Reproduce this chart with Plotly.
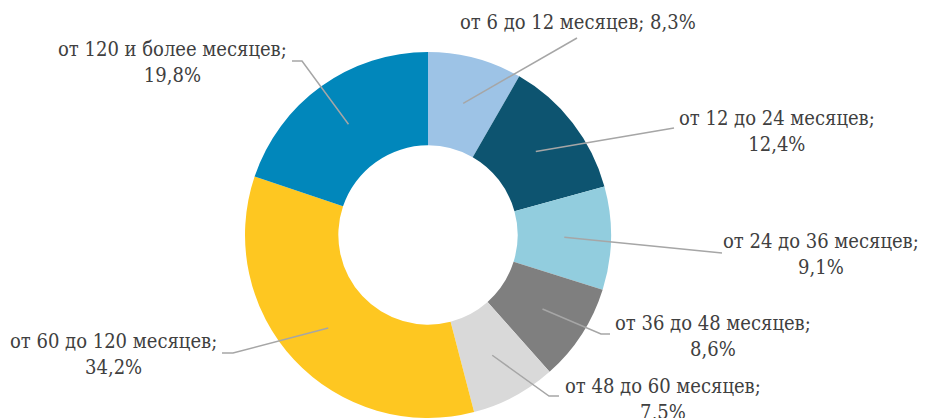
import math
import plotly.graph_objects as go

# the page body has an 8px margin, so the figure sits at (8, 8) in the window
OFF = 8
W, H = 928 - OFF, 418 - OFF

categories = [
    "от 6 до 12 месяцев",
    "от 12 до 24 месяцев",
    "от 24 до 36 месяцев",
    "от 36 до 48 месяцев",
    "от 48 до 60 месяцев",
    "от 60 до 120 месяцев",
    "от 120 и более месяцев",
]
values = [8.3, 12.4, 9.1, 8.6, 7.5, 34.2, 19.8]
value_labels = ["8,3%", "12,4%", "9,1%", "8,6%", "7,5%", "34,2%", "19,8%"]
colors = ["#9DC3E6", "#0D5470", "#92CDDE", "#7F7F7F", "#D9D9D9", "#FEC721", "#0187BB"]

# label layout (window pixel positions of text centers, leader elbow/end points)
label_centers = [(578, 22), (777, 131), (821, 254), (713, 336), (663, 399), (113, 354), (172, 62)]
single_line = [True, False, False, False, False, False, False]
leader_elbows = [None, None, None, (601, 334), (549, 396), (233, 353), (302, 61)]
leader_ends = [(577, 38), (674, 128), (722, 253), (610, 334), (559, 396), (222, 353), (292, 61)]

# pie geometry (window pixels)
top_px = 52
radius_px = (418 - top_px) / 2
cx_px, cy_px = 428, top_px + radius_px
hole = 0.49

FONT = "DejaVu Serif Condensed"

def px(x, y):
    return (x - OFF) / W, 1 - (y - OFF) / H

fig = go.Figure(go.Pie(
    labels=categories,
    values=values,
    sort=False,
    direction="clockwise",
    rotation=0,
    hole=hole,
    marker=dict(colors=colors, line=dict(width=0)),
    textinfo="none",
    hoverinfo="label+percent",
    showlegend=False,
    domain=dict(x=[(cx_px - radius_px - OFF) / W, (cx_px + radius_px - OFF) / W],
                y=[0, 1 - (top_px - OFF) / H]),
))

total = sum(values)
cum = 0
shapes = []
annotations = []
mid_r = radius_px * (1 + hole) / 2
for i, v in enumerate(values):
    ang = (cum + v / 2) / total * 2 * math.pi
    cum += v
    sx = cx_px + mid_r * math.sin(ang)
    sy = cy_px - mid_r * math.cos(ang)
    pts = [(sx, sy)]
    if leader_elbows[i]:
        pts.append(leader_elbows[i])
    pts.append(leader_ends[i])
    path = ""
    for j, (x, y) in enumerate(pts):
        X, Y = px(x, y)
        path += ("M" if j == 0 else " L") + f"{X:.5f},{Y:.5f}"
    shapes.append(dict(type="path", xref="paper", yref="paper", path=path,
                       line=dict(color="#A6A6A6", width=1.5)))
    sep = " " if single_line[i] else "<br>"
    tx, ty = px(*label_centers[i])
    annotations.append(dict(
        x=tx, y=ty, xref="paper", yref="paper", xanchor="center", yanchor="middle",
        text=f"{categories[i]};{sep}{value_labels[i]}", showarrow=False, align="center",
        font=dict(family=FONT, size=20, color="#404040"),
    ))

fig.update_layout(
    width=W, height=H,
    margin=dict(l=0, r=0, t=0, b=0),
    paper_bgcolor="white", plot_bgcolor="white",
    font=dict(family=FONT),
    shapes=shapes, annotations=annotations,
)

fig.write_html("out.html")
